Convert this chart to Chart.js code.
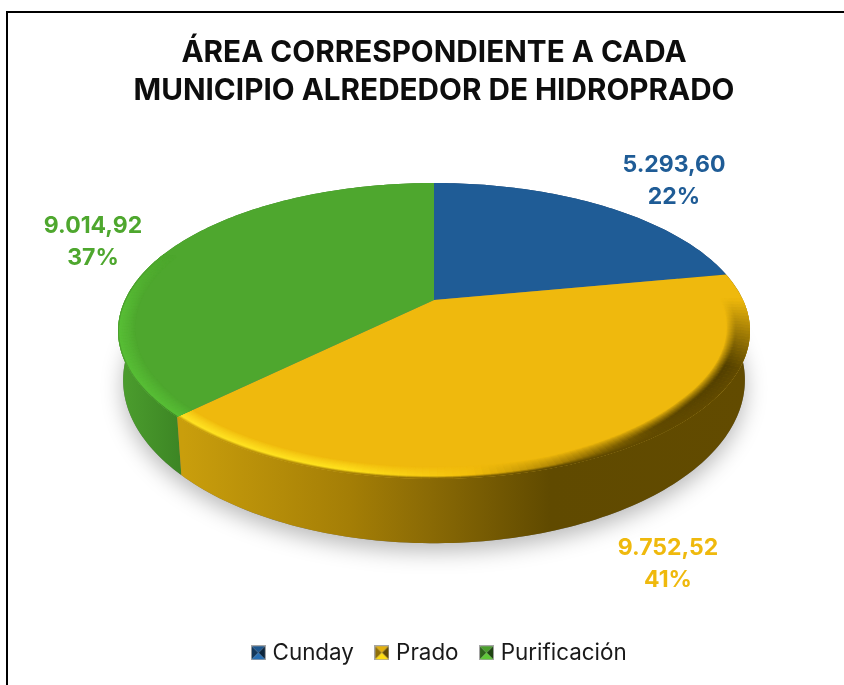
<!DOCTYPE html>
<html>
<head>
<meta charset="utf-8">
<script src="https://cdn.jsdelivr.net/npm/chart.js@4/dist/chart.umd.min.js"></script>
<style>
  html, body { margin: 0; background: #fff; overflow: hidden; }
  canvas { display: block; }
</style>
</head>
<body>
<canvas id="chartArea" width="844" height="685"></canvas>
<script>
const municipios = ["Cunday", "Prado", "Purificación"];
const areas = [5293.60, 9752.52, 9014.92];
const colores = ["#1f5c96", "#efb90d", "#4ea72e"];
const titulo = ["ÁREA CORRESPONDIENTE A CADA", "MUNICIPIO ALREDEDOR DE HIDROPRADO"];

// posicion de cada etiqueta (centro del bloque)
const labelPos = [[674, 181], [668, 564], [93, 242]];

// tonos de la pared lateral y del bisel, por x en pantalla
const wallStops = [
    [[0, [36, 69, 107]], [844, [36, 69, 107]]],
    [[183, [201, 158, 12]], [350, [164, 126, 6]], [430, [138, 106, 5]], [550, [96, 74, 0]], [750, [98, 75, 0]]],
    [[120, [76, 158, 46]], [187, [59, 131, 35]]]
];
const bevelStops = [
    [[0, [31, 92, 150]], [844, [31, 92, 150]]],
    [[183, [255, 226, 36]], [340, [255, 226, 30]], [470, [243, 190, 12]], [560, [170, 130, 6]], [660, [98, 75, 0]], [750, [80, 62, 0]]],
    [[118, [88, 190, 54]], [190, [88, 190, 54]]]
];

// proyeccion en perspectiva del disco
const cx = 434, cy = 300, R = 309, H = 141.5, K = 0.209;
const DEPTH = 46, R2 = 304, H2 = 156;

function topPt(t, r) {
    const u = r * Math.sin(t), v = -r * Math.cos(t), w = 1 - K * v;
    return [cx + R * u / w, cy + H * v / w];
}
function botPt(t) {
    const u = Math.sin(t), v = -Math.cos(t), w = 1 - K * v;
    return [cx + R2 * u / w, cy + DEPTH + H2 * v / w];
}
function rgb(c) { return `rgb(${c.map(Math.round).join(",")})`; }
function mix(a, b, f) { return a.map((c, k) => c + (b[k] - c) * f); }
function stopAt(stops, x) {
    if (x <= stops[0][0]) return stops[0][1];
    for (let i = 1; i < stops.length; i++) {
        if (x <= stops[i][0]) {
            const f = (x - stops[i - 1][0]) / (stops[i][0] - stops[i - 1][0]);
            return mix(stops[i - 1][1], stops[i][1], f);
        }
    }
    return stops[stops.length - 1][1];
}
function hexRgb(h) {
    return [1, 3, 5].map(i => parseInt(h.substr(i, 2), 16));
}
function steps(a, b) {
    const n = Math.max(2, Math.ceil((b - a) / 0.02)), out = [];
    for (let i = 0; i <= n; i++) out.push(a + (b - a) * i / n);
    return out;
}
function slicePath(ctx, a, b) {
    ctx.beginPath();
    ctx.moveTo(cx, cy);
    steps(a, b).forEach(t => {
        const p = topPt(t, 1);
        ctx.lineTo(p[0], p[1]);
    });
    ctx.closePath();
}

const pie3d = {
    id: "pie3d",
    afterLayout(chart) {
        // la leyenda va un poco a la derecha del titulo
        chart.legend.left += 7;
        chart.legend.right += 7;
    },
    beforeDraw(chart) {
        const ctx = chart.ctx;
        ctx.save();
        ctx.fillStyle = "#fff";
        ctx.fillRect(0, 0, 844, 685);
        ctx.fillStyle = "#000";
        ctx.fillRect(6, 11, 838, 2);
        ctx.fillRect(6, 11, 2, 674);
        ctx.restore();
    },
    beforeDatasetDraw(chart) {
        const ctx = chart.ctx;
        const arcs = chart.getDatasetMeta(0).data;
        const angs = arcs.map(a => [a.startAngle + Math.PI / 2, a.endAngle + Math.PI / 2]);
        ctx.save();

        // sombra
        ctx.save();
        ctx.shadowColor = "rgba(0,0,0,0.28)";
        ctx.shadowBlur = 22;
        ctx.shadowOffsetY = 8;
        ctx.fillStyle = "#777";
        ctx.beginPath();
        steps(0, Math.PI * 2).forEach((t, i) => {
            const p = botPt(t);
            i ? ctx.lineTo(p[0], p[1]) : ctx.moveTo(p[0], p[1]);
        });
        ctx.closePath();
        ctx.fill();
        ctx.restore();

        // pared lateral
        [0, 2, 1].forEach(i => {
            const [a, b] = angs[i];
            const ts = steps(a, b);
            const g = ctx.createLinearGradient(0, 0, 844, 0);
            wallStops[i].forEach(s => g.addColorStop(s[0] / 844, rgb(s[1])));
            ctx.fillStyle = g;
            ctx.beginPath();
            ts.forEach((t, k) => {
                const p = topPt(t, 1);
                k ? ctx.lineTo(p[0], p[1]) : ctx.moveTo(p[0], p[1]);
            });
            ts.slice().reverse().forEach(t => {
                const p = botPt(t);
                ctx.lineTo(p[0], p[1]);
            });
            ctx.closePath();
            ctx.fill();
        });

        // cara superior
        angs.forEach(([a, b], i) => {
            ctx.fillStyle = colores[i];
            slicePath(ctx, a, b);
            ctx.fill();
        });

        // bisel del borde, recortado a cada porcion
        const N = 26;
        ctx.lineWidth = 2;
        ctx.lineCap = "butt";
        angs.forEach(([a, b], i) => {
            const base = hexRgb(colores[i]);
            const ts = steps(a, b);
            ctx.save();
            slicePath(ctx, a, b);
            ctx.clip();
            for (let n = N; n >= 0; n--) {
                const s = n / N;
                for (let k = 1; k < ts.length; k++) {
                    const t = ts[k];
                    const v = -Math.cos(t);
                    const raw = Math.sin(t) > 0 ? v / 0.45 : (v + 0.35) / 0.4;
                    const vis = Math.min(1, Math.max(0, raw));
                    if (vis <= 0) continue;
                    const xr = topPt(t, 1)[0];
                    // hacia la derecha la zona oscura entra mas en la cara
                    const dark = Math.min(1, Math.max(0, (xr - 550) / 150));
                    const r = 1 - (0.05 + 0.02 * dark) * s;
                    const thr = i === 2 ? 0.04 : 0.2 + 0.4 * dark;
                    const p0 = topPt(ts[k - 1], r), p1 = topPt(t, r);
                    const edge = stopAt(bevelStops[i], xr);
                    const wall = stopAt(wallStops[i], xr);
                    const c = s < thr
                        ? mix(wall, edge, s / thr)
                        : mix(base, edge, Math.pow((1 - s) / (1 - thr), 0.8));
                    ctx.strokeStyle = rgb(mix(base, c, vis));
                    ctx.beginPath();
                    ctx.moveTo(p0[0], p0[1]);
                    ctx.lineTo(p1[0], p1[1]);
                    ctx.stroke();
                }
            }
            ctx.restore();
        });
        ctx.restore();
        return false;
    },
    afterDraw(chart) {
        const ctx = chart.ctx;
        const total = areas.reduce((s, v) => s + v, 0);
        const fmt = new Intl.NumberFormat("de-DE", { minimumFractionDigits: 2, maximumFractionDigits: 2 });
        ctx.save();
        ctx.font = "bold 23px Inter";
        ctx.textAlign = "center";
        ctx.textBaseline = "middle";
        areas.forEach((v, i) => {
            ctx.fillStyle = colores[i];
            ctx.fillText(fmt.format(v), labelPos[i][0], labelPos[i][1] - 16);
            ctx.fillText(Math.round(v / total * 100) + "%", labelPos[i][0], labelPos[i][1] + 16);
        });
        ctx.restore();
    }
};

// cuadrito de la leyenda con efecto piramide
function swatch(color) {
    const s = 15, c = document.createElement("canvas");
    c.width = s; c.height = s;
    const g = c.getContext("2d");
    const base = hexRgb(color);
    const tri = (pts, f) => {
        g.fillStyle = rgb(base.map(v => Math.min(255, v * f)));
        g.beginPath();
        g.moveTo(pts[0], pts[1]); g.lineTo(pts[2], pts[3]); g.lineTo(pts[4], pts[5]);
        g.closePath();
        g.fill();
    };
    const m = s / 2;
    tri([0, 0, s, 0, m, m], 0.95);
    tri([0, 0, 0, s, m, m], 0.6);
    tri([s, 0, s, s, m, m], 0.4);
    tri([0, s, s, s, m, m], 1.2);
    g.strokeStyle = "#a5a5a5";
    g.strokeRect(0.5, 0.5, s - 1, s - 1);
    return c;
}

new Chart(document.getElementById("chartArea"), {
    type: "pie",
    data: {
        labels: municipios,
        datasets: [{ data: areas, backgroundColor: colores, borderWidth: 0 }]
    },
    options: {
        responsive: false,
        animation: false,
        layout: { padding: { left: 24, top: 34, bottom: 11 } },
        plugins: {
            title: {
                display: true,
                text: titulo,
                color: "#0d0d0d",
                font: { family: "Inter", size: 29.7, weight: "bold", lineHeight: 1.28 },
                padding: 0
            },
            legend: {
                position: "bottom",
                labels: {
                    color: "#1a1a1a",
                    font: { family: "Inter", size: 22.4 },
                    usePointStyle: true,
                    pointStyleWidth: 6,
                    boxHeight: 15,
                    padding: 25,
                    generateLabels: (chart) => municipios.map((m, i) => ({
                        text: m,
                        pointStyle: swatch(colores[i]),
                        fontColor: "#1a1a1a",
                        datasetIndex: 0,
                        index: i
                    }))
                }
            },
            tooltip: { enabled: false }
        }
    },
    plugins: [pie3d]
});
</script>
</body>
</html>
